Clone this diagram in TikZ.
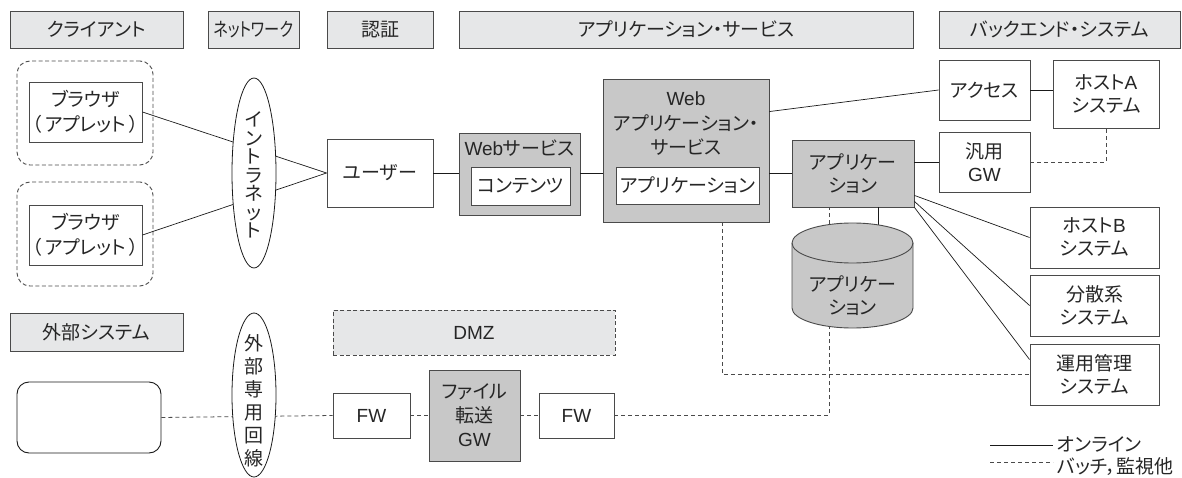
\documentclass[tikz,border=0pt]{standalone}
\usepackage{fontspec}
\setmainfont{Noto Sans CJK JP}[RawFeature=+palt]
\newfontfamily\lat{Liberation Sans}
\usetikzlibrary{calc,shapes.geometric}
\definecolor{hdrfill}{HTML}{E6E7E8}
\definecolor{grayfill}{HTML}{C8C8C8}
\definecolor{edge}{HTML}{4A4A4A}
\definecolor{txt}{HTML}{262626}
\definecolor{wire}{HTML}{1A1A1A}
\tikzset{
  hdr/.style={draw=edge, fill=hdrfill, line width=0.9pt},
  wbox/.style={draw=edge, fill=white, line width=0.9pt},
  gbox/.style={draw=edge, fill=grayfill, line width=0.9pt},
  grp/.style={draw=edge, dash pattern=on 4pt off 2.5pt, line width=0.9pt, rounded corners=13pt},
  dmzbox/.style={draw=edge, fill=hdrfill, dash pattern=on 4pt off 2.5pt, line width=0.9pt},
  link/.style={draw=wire, line width=0.7pt},
  batch/.style={draw=edge, dash pattern=on 4pt off 3pt, line width=0.8pt},
  oval/.style={ellipse, draw=wire, fill=white, line width=0.8pt, inner sep=0pt},
  lines/.style={align=center, font=\fontsize{19}{#1}\selectfont}
}
\begin{document}
\begin{tikzpicture}[x=1pt,y=-1pt,
  every node/.style={font=\fontsize{19}{22}\selectfont, text=txt, inner sep=0pt}]
\useasboundingbox (0,0) rectangle (1182,478);

% headers
\node[hdr, minimum width=173pt, minimum height=37pt] (hC) at (96.5,29.5) {クライアント};
\node[hdr, minimum width=91pt, minimum height=37pt] (hN) at (253.5,29.5) {\scalebox{0.8}[1]{ネットワーク}};
\node[hdr, minimum width=106pt, minimum height=37pt] (hA) at (380,29.5) {認証};
\node[hdr, minimum width=454pt, minimum height=37pt] (hS) at (686,29.5) {アプリケーション・サービス};
\node[hdr, minimum width=241pt, minimum height=37pt] (hB) at (1059.5,29.5) {バックエンド・システム};
\node[hdr, minimum width=173pt, minimum height=38pt] (hX) at (96.5,332) {外部システム};

% client groups
\node[grp, minimum width=136pt, minimum height=104pt] (cl1) at (85,113) {};
\node[grp, minimum width=136pt, minimum height=104pt] (cl2) at (85,234) {};
\node[wbox, lines=25, minimum width=113pt, minimum height=60pt] (br1) at (85.5,112) {ブラウザ\\（\hspace{3pt}アプレット\hspace{3pt}）};
\node[wbox, lines=25, minimum width=113pt, minimum height=60pt] (br2) at (85.5,235) {ブラウザ\\（\hspace{3pt}アプレット\hspace{3pt}）};

% auth / app service
\node[wbox, minimum width=106pt, minimum height=68pt] (user) at (380,173) {ユーザー};
\node[gbox, minimum width=121pt, minimum height=82pt] (websvc) at (519.5,174) {};
\node (websvcL) at (519.5,148.5) {{\lat Web}サービス};
\node[wbox, minimum width=99pt, minimum height=38pt] (cont) at (520.5,186) {コンテンツ};
\node[gbox, minimum width=166pt, minimum height=143pt] (webapp) at (686,150.5) {};
\node[lines=24.5] (webappL) at (686,124) {{\lat Web}\\アプリケーション・\\サービス};
\node[wbox, minimum width=143pt, minimum height=37pt] (webappin) at (687.5,185.5) {アプリケーション};
\node[gbox, lines=23, minimum width=122pt, minimum height=67pt] (app) at (853,173.5) {アプリケー\\ション};

% backend
\node[wbox, minimum width=91pt, minimum height=60pt] (access) at (984.5,90) {アクセス};
\node[wbox, lines=23, minimum width=106pt, minimum height=68pt] (hostA) at (1106,94) {ホスト{\lat A}\\システム};
\node[wbox, lines=23, minimum width=91pt, minimum height=60pt] (gw) at (984.5,162) {汎用\\{\lat GW}};
\node[wbox, lines=23, minimum width=129pt, minimum height=61pt] (hostB) at (1094.5,237.5) {ホスト{\lat B}\\システム};
\node[wbox, lines=23, minimum width=129pt, minimum height=61pt] (dist) at (1094.5,305.5) {分散系\\システム};
\node[wbox, lines=23, minimum width=129pt, minimum height=61pt] (ops) at (1094.5,374.5) {運用管理\\システム};

% external / DMZ
\node[draw=wire, line width=0.9pt, fill=white, rounded corners=12pt, minimum width=144pt, minimum height=71pt] (ext) at (89,417.5) {};
\node[dmzbox, minimum width=282pt, minimum height=45pt] (dmz) at (474,332.5) {\lat DMZ};
\node[wbox, minimum width=77pt, minimum height=45pt] (fw1) at (371.5,415.5) {\lat FW};
\node[gbox, lines=24, minimum width=91pt, minimum height=91pt] (fgw) at (474.5,415.5) {ファイル\\転送\\{\lat GW}};
\node[wbox, minimum width=75pt, minimum height=45pt] (fw2) at (576.5,415.5) {\lat FW};

% helper coordinates
\coordinate (waTop) at ($(webapp.north east)+(0,33)$);
\coordinate (waBot) at ($(webapp.south)+(36,0)$);
\coordinate (apBatch) at ($(app.south)+(-24,0)$);
\coordinate (apDb) at ($(app.south)+(25,0)$);
\coordinate (dbTop) at ($(app.south)+(25,18)$);

% online connectors
\draw[link] (br1.east) -- (user.west);
\draw[link] (br2.east) -- (user.west);
\draw[link] (user.east) -- (user.east -| websvc.west);
\draw[link] (websvc.east |- user.east) -- (user.east -| webapp.west);
\draw[link] (webapp.east |- user.east) -- (user.east -| app.west);
\draw[link] (waTop) -- (access.west);
\draw[link] (access.east) -- (access.east -| hostA.west);
\draw[link] (gw.west -| app.east) -- (gw.west);
\draw[link] ($(app.south east)+(0,-12)$) -- (hostB.west);
\draw[link] ($(app.south east)+(0,-6)$) -- (dist.west);
\draw[link] (app.south east) -- ($(ops.west)+(0,-15)$);
\draw[link] (apDb) -- (dbTop);

% batch connectors
\draw[batch] (gw.east) -| (hostA.south);
\draw[batch] (waBot) |- (ops.west);
\draw[batch] (fw2.east) -| (apBatch);
\draw[batch] (ext.east) -- (fw1.west);
\draw[batch] (fw1.east) -- (fgw.west);
\draw[batch] (fgw.east) -- (fw2.west);

% ovals
\node[oval, minimum width=44pt, minimum height=190pt] (intra) at (254,173) {};
\node[lines=18.5] (intraL) at (254,175) {イ\\ン\\ト\\ラ\\ネ\\ッ\\ト};
\node[oval, minimum width=44pt, minimum height=164pt] (line) at (254,395) {};
\node[lines=23] (lineL) at (254,401) {外\\部\\専\\用\\回\\線};

% cylinder
\path[gbox] (792,243) -- (792,308) arc[start angle=180, end angle=360, x radius=60.5pt, y radius=20pt]
  -- (913,243) arc[start angle=0, end angle=180, x radius=60.5pt, y radius=20pt] -- cycle;
\draw[draw=edge, line width=0.9pt] (792,243) arc[start angle=180, end angle=360, x radius=60.5pt, y radius=20pt];
\node[lines=23] (db) at (852.5,296) {アプリケー\\ション};

% legend
\coordinate (l1a) at (990,445);
\coordinate (l1b) at (1053,445);
\coordinate (l2a) at (990,462);
\coordinate (l2b) at (1053,462);
\draw[link] (l1a) -- (l1b);
\draw[batch] (l2a) -- (l2b);
\node[anchor=west] (lg1) at (1057,444.5) {オンライン};
\node[anchor=west] (lg2) at (1057,467) {バッチ，監視他};
\end{tikzpicture}
\end{document}
